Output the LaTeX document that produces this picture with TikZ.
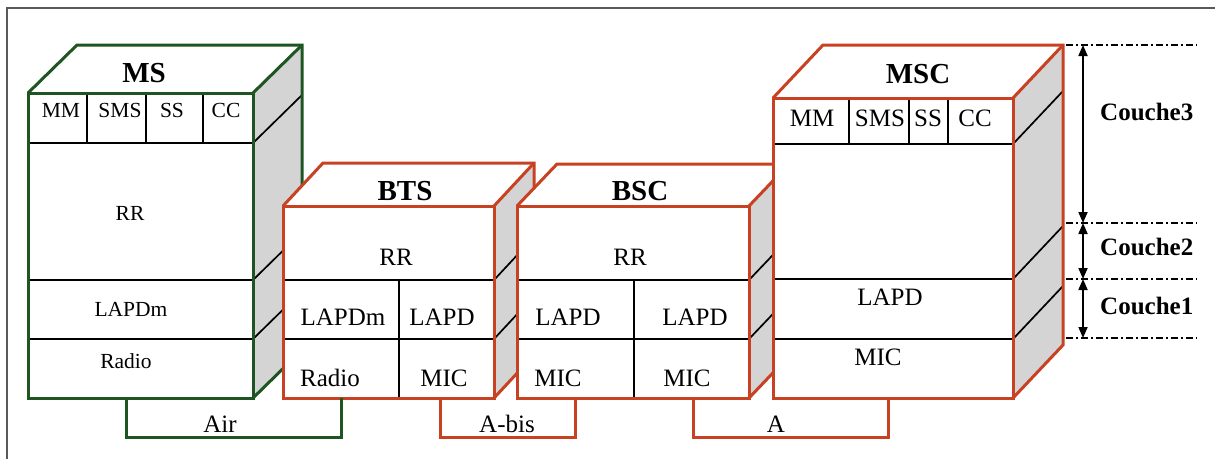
\documentclass[tikz,border=0pt]{standalone}
\usepackage{fontspec}
\setmainfont{Liberation Serif}
\usetikzlibrary{arrows.meta}
\definecolor{msgreen}{RGB}{30,85,35}
\definecolor{nred}{RGB}{200,65,35}
\definecolor{sidegray}{RGB}{212,212,212}
\definecolor{framegray}{RGB}{90,90,90}
% #1 x1, #2 y1 (top), #3 x2, #4 y2 (bottom), #5 dx, #6 dy
\newcommand\cubefill[6]{%
  \fill[white] (#1,#2) -- (#1+#5,#2-#6) -- (#3+#5,#2-#6) -- (#3,#2) -- cycle;
  \fill[sidegray] (#3,#2) -- (#3+#5,#2-#6) -- (#3+#5,#4-#6) -- (#3,#4) -- cycle;
  \fill[white] (#1,#2) rectangle (#3,#4);}
\newcommand\cubeedge[7]{%
  \draw[edge,#7] (#1,#2) rectangle (#3,#4);
  \draw[edge,#7] (#1,#2) -- (#1+#5,#2-#6) -- (#3+#5,#2-#6) -- (#3+#5,#4-#6) -- (#3,#4);
  \draw[edge,#7] (#3,#2) -- (#3+#5,#2-#6);}
% #1 x1, #2 x2, #3 y, #4 dx, #5 dy
\newcommand\layerline[5]{\draw[layer] (#1,#3) -- (#2,#3) -- (#2+#4,#3-#5);}
\begin{document}
\begin{tikzpicture}[x=1pt,y=-1pt,
  title/.style={font=\fontsize{29}{30}\selectfont\bfseries, inner sep=0},
  lbl/.style={font=\fontsize{25}{26}\selectfont, inner sep=0},
  slbl/.style={font=\fontsize{21.5}{22}\selectfont, inner sep=0},
  clbl/.style={font=\fontsize{25}{26}\selectfont\bfseries, inner sep=0, anchor=west},
  layer/.style={black, line width=1.7pt},
  edge/.style={line width=3pt, line join=miter},
  link/.style={line width=3pt},
  guide/.style={black, line width=1.5pt, dash pattern=on 7pt off 3pt on 2pt off 3pt},
  dim/.style={black, line width=1.8pt, {Triangle[length=11pt,width=9pt]}-{Triangle[length=11pt,width=9pt]}}
]
\useasboundingbox (0,0) rectangle (1215,459);
\draw[framegray, line width=1.3pt] (7,459) -- (7,8) -- (1215,8);

% ---------------- MS ----------------
\cubefill{28}{93}{253}{398}{49}{48}
\layerline{28}{253}{143}{49}{48}
\layerline{28}{253}{280}{49}{48}
\layerline{28}{253}{339}{49}{48}
\draw[layer] (87,93) -- (87,143) (146,93) -- (146,143) (203,93) -- (203,143);
\cubeedge{28}{93}{253}{398}{49}{48}{msgreen}
\node[title] (ms) at (144,73) {MS};
\node[slbl] (msmm) at (61,110) {MM};
\node[slbl] (mssms) at (120,110) {SMS};
\node[slbl] (msss) at (172,110) {SS};
\node[slbl] (mscc) at (226,110) {CC};
\node[slbl] (msrr) at (130,213) {RR};
\node[slbl] (mslapdm) at (131,309) {LAPDm};
\node[slbl] (msradio) at (126,361) {Radio};

% ---------------- BTS ----------------
\cubefill{283}{206}{494}{398}{40}{43}
\layerline{283}{494}{280}{40}{43}
\layerline{283}{494}{339}{40}{43}
\draw[layer] (399,280) -- (399,398);
\cubeedge{283}{206}{494}{398}{40}{43}{nred}
\node[title] (bts) at (405,191) {BTS};
\node[lbl] (btsrr) at (396,257) {RR};
\node[lbl] (btslapdm) at (343,317) {LAPDm};
\node[lbl] (btslapd) at (442,317) {LAPD};
\node[lbl] (btsradio) at (330,378) {Radio};
\node[lbl] (btsmic) at (444,378) {MIC};

% ---------------- BSC ----------------
\cubefill{517}{206}{749}{398}{40}{42}
\layerline{517}{749}{280}{40}{42}
\layerline{517}{749}{339}{40}{42}
\draw[layer] (634,280) -- (634,398);
\cubeedge{517}{206}{749}{398}{40}{42}{nred}
\node[title] (bsc) at (640,191) {BSC};
\node[lbl] (bscrr) at (630,257) {RR};
\node[lbl] (bsclapda) at (568,317) {LAPD};
\node[lbl] (bsclapdb) at (695,317) {LAPD};
\node[lbl] (bscmica) at (558,378) {MIC};
\node[lbl] (bscmicb) at (687,378) {MIC};

% ---------------- MSC ----------------
\cubefill{773}{98}{1013}{398}{50}{53}
\layerline{773}{1013}{144}{50}{53}
\layerline{773}{1013}{279}{50}{53}
\layerline{773}{1013}{339}{50}{53}
\draw[layer] (849,98) -- (849,144) (909,98) -- (909,144) (948,98) -- (948,144);
\cubeedge{773}{98}{1013}{398}{50}{53}{nred}
\node[title] (msc) at (918,74) {MSC};
\node[lbl] (mscmm) at (812,118) {MM};
\node[lbl] (mscsms) at (880,118) {SMS};
\node[lbl] (mscss) at (928,118) {SS};
\node[lbl] (msccc) at (975,118) {CC};
\node[lbl] (msclapd) at (890,297) {LAPD};
\node[lbl] (mscmic) at (878,357) {MIC};

% ---------------- interfaces ----------------
\coordinate (airA) at (126,398);
\coordinate (airB) at (126,437);
\coordinate (airC) at (341,437);
\coordinate (airD) at (341,398);
\draw[link, msgreen] (airA) -- (airB) -- (airC) -- (airD);
\node[lbl] (air) at (220,424) {Air};

\coordinate (abisA) at (440,398);
\coordinate (abisB) at (440,437);
\coordinate (abisC) at (575,437);
\coordinate (abisD) at (575,398);
\draw[link, nred] (abisA) -- (abisB) -- (abisC) -- (abisD);
\node[lbl] (abis) at (507,424) {A-bis};

\coordinate (aA) at (693,398);
\coordinate (aB) at (693,437);
\coordinate (aC) at (888,437);
\coordinate (aD) at (888,398);
\draw[link, nred] (aA) -- (aB) -- (aC) -- (aD);
\node[lbl] (a) at (776,424) {A};

% ---------------- layers scale ----------------
\coordinate (g3) at (1066,45);   \coordinate (g3e) at (1197,45);
\coordinate (g2) at (1066,223);  \coordinate (g2e) at (1197,223);
\coordinate (g1) at (1066,279);  \coordinate (g1e) at (1197,279);
\coordinate (g0) at (1066,338);  \coordinate (g0e) at (1197,338);
\draw[guide] (g3) -- (g3e);
\draw[guide] (g2) -- (g2e);
\draw[guide] (g1) -- (g1e);
\draw[guide] (g0) -- (g0e);
\coordinate (d3) at (1083,45);
\coordinate (d2) at (1083,223);
\coordinate (d1) at (1083,279);
\coordinate (d0) at (1083,338);
\draw[dim] (d3) -- (d2);
\draw[dim] (d2) -- (d1);
\draw[dim] (d1) -- (d0);
\node[clbl] (c3) at (1100,112) {Couche3};
\node[clbl] (c2) at (1100,247) {Couche2};
\node[clbl] (c1) at (1100,306) {Couche1};
\end{tikzpicture}
\end{document}
